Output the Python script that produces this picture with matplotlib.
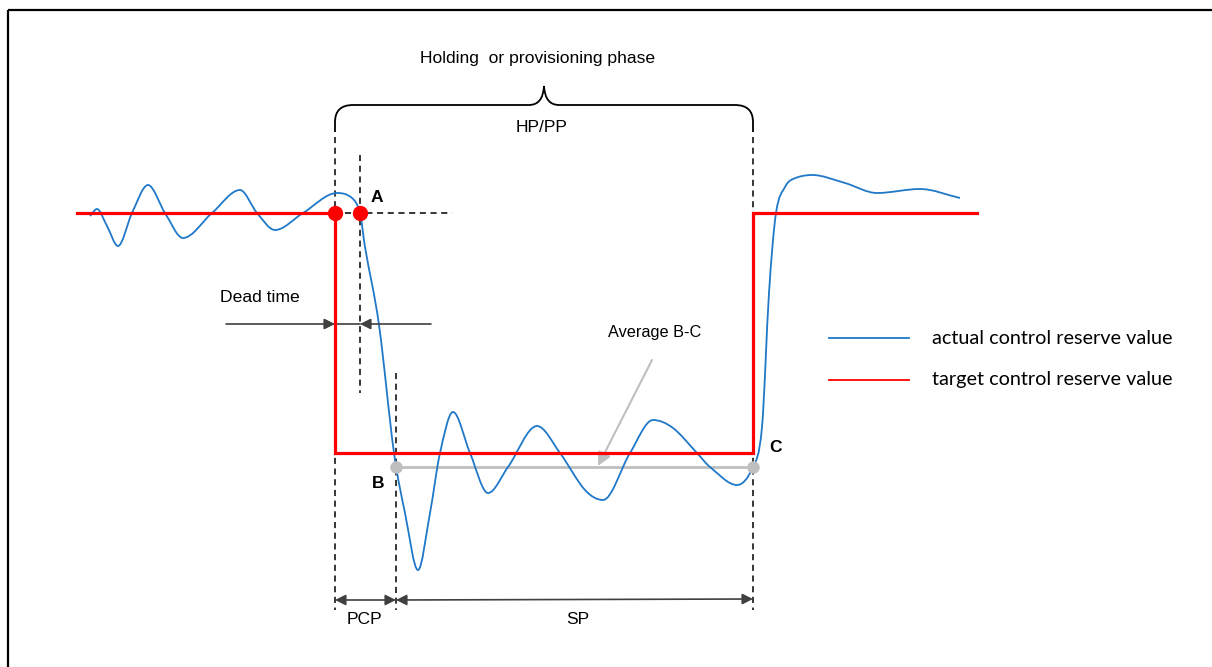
import numpy as np
import matplotlib
matplotlib.use("Agg")
import matplotlib.pyplot as plt
from matplotlib.path import Path
from matplotlib.patches import PathPatch

# diagram is drawn in pixel units of the reference (y grows downwards)
W, H = 1212, 667

# actual control reserve value
curve_x = [90, 97, 107, 118, 132, 148, 165, 183, 212, 240, 257, 275, 303, 337, 352,
           360, 365, 379, 394, 405, 418, 430, 440, 453, 470, 488, 508, 537, 560,
           585, 603, 630, 653, 673, 697, 710, 737, 753, 762, 769, 776, 785, 793,
           812, 845, 877, 920, 960]
curve_y = [216, 209, 226, 246, 213, 185, 213, 238, 213, 190, 213, 230, 213, 193, 198,
           213, 247, 325, 453, 513, 570, 513, 453, 412, 453, 493, 467, 426, 453,
           490, 500, 453, 420, 428, 453, 467, 485, 467, 427, 293, 213, 187, 179,
           175, 183, 193, 189, 198]
# points that are peaks or troughs (flat tangent)
curve_ext = [97, 118, 148, 183, 240, 275, 337, 418, 453, 488, 537, 603, 653, 737,
             812, 877, 920]

# target control reserve value (step profile)
target_x = [77, 335, 335, 753, 753, 977]
target_y = [213, 213, 453, 453, 213, 213]

# event times / levels
t_step, t_a, t_b, t_c = 335, 360, 396, 753
level_hi, level_lo, level_avg = 213, 453, 467

blue = "#1f78c8"
red = "#ff0000"
grey = "#bfbfbf"
dark = "#404040"
arial = "Liberation Sans"

fig = plt.figure(figsize=(W / 100, H / 100), dpi=100)
ax = fig.add_axes([0, 0, 1, 1])
ax.set_xlim(0, W)
ax.set_ylim(H, 0)
ax.axis("off")

# frame (top and left edges only, picture is cropped)
ax.plot([8, W], [10, 10], color="black", lw=1.6, solid_capstyle="butt")
ax.plot([8, 8], [10, H], color="black", lw=1.6, solid_capstyle="butt")

# dashed guide lines
dash = dict(color="black", lw=1.1, ls=(0, (4, 3)))
ax.plot([t_step, t_step], [137, 610], **dash)
ax.plot([t_c, t_c], [137, 610], **dash)
ax.plot([t_a, t_a], [155, 393], **dash)
ax.plot([t_b, t_b], [373, 610], **dash)
ax.plot([238, 452], [level_hi, level_hi], **dash)

# smooth blue curve: hermite segments drawn as bezier curves
x = np.array(curve_x, float)
y = np.array(curve_y, float)
dx = np.diff(x)
m = np.zeros_like(y)
m[0] = (y[1] - y[0]) / dx[0]
m[-1] = (y[-1] - y[-2]) / dx[-1]
for i in range(1, len(y) - 1):
    if curve_x[i] not in curve_ext:
        m[i] = (y[i + 1] - y[i - 1]) / (x[i + 1] - x[i - 1])
verts = [(x[0], y[0])]
codes = [Path.MOVETO]
for i in range(len(x) - 1):
    h = dx[i] / 3
    verts += [(x[i] + h, y[i] + m[i] * h), (x[i + 1] - h, y[i + 1] - m[i + 1] * h),
              (x[i + 1], y[i + 1])]
    codes += [Path.CURVE4] * 3
ax.add_patch(PathPatch(Path(verts, codes), fill=False, edgecolor=blue, lw=1.3,
                       zorder=3))

# target step
ax.plot(target_x, target_y, color=red, lw=2.3, zorder=4, solid_joinstyle="miter")

# average B-C line
ax.plot([t_b, t_c], [level_avg, level_avg], color=grey, lw=2, zorder=2)
ax.plot([t_b, t_c], [level_avg, level_avg], "o", color=grey, ms=8, zorder=5)
ax.annotate("", xy=(598, 466), xytext=(652, 360),
            arrowprops=dict(arrowstyle="-|>", color=grey, lw=1.5,
                            mutation_scale=20, shrinkA=0, shrinkB=0))
ax.text(655, 333, "Average B-C", fontsize=11.7, family=arial, ha="center",
        va="center")

# red points
ax.plot([t_step, t_a], [level_hi, level_hi], "o", color=red, ms=10, zorder=6)

# labels A, B, C
ax.text(371, 198, "A", fontsize=12.5, family=arial, weight="bold", va="center")
ax.text(372, 484, "B", fontsize=12.5, family=arial, weight="bold", va="center")
ax.text(769, 448, "C", fontsize=12.5, family=arial, weight="bold", va="center")

# dead time
ax.plot([t_step, t_a], [324, 324], color=dark, lw=1.2)
arr = dict(arrowstyle="-|>", color=dark, lw=1.2, mutation_scale=16,
           shrinkA=0, shrinkB=0)
ax.annotate("", xy=(t_step, 324), xytext=(226, 324), arrowprops=arr)
ax.annotate("", xy=(t_a, 324), xytext=(431, 324), arrowprops=arr)
ax.text(260, 298, "Dead time", fontsize=12.6, family=arial, ha="center",
        va="center")

# PCP / SP spans
span = dict(arrowstyle="<|-|>", color=dark, lw=1.2, mutation_scale=16,
            shrinkA=0, shrinkB=0)
ax.annotate("", xy=(t_step, 600), xytext=(t_b, 600), arrowprops=span)
ax.annotate("", xy=(t_b, 600), xytext=(t_c, 599), arrowprops=span)
ax.text(364, 619, "PCP", fontsize=12.6, family=arial, ha="center", va="center")
ax.text(578, 619, "SP", fontsize=12.6, family=arial, ha="center", va="center")

# brace over the holding phase
mid = (t_step + t_c) / 2
bv = [(t_step, 132), (t_step, 122), (t_step, 105), (t_step + 18, 105),
      (mid - 15, 105), (mid - 1, 105), (mid, 86),
      (mid + 1, 105), (mid + 15, 105), (t_c - 18, 105),
      (t_c, 105), (t_c, 122), (t_c, 132)]
bc = [Path.MOVETO, Path.LINETO, Path.CURVE3, Path.CURVE3,
      Path.LINETO, Path.CURVE3, Path.CURVE3,
      Path.CURVE3, Path.CURVE3, Path.LINETO,
      Path.CURVE3, Path.CURVE3, Path.LINETO]
ax.add_patch(PathPatch(Path(bv, bc), fill=False, edgecolor="black", lw=1.3))
ax.text(538, 58, "Holding  or provisioning phase", fontsize=12.6, family=arial,
        ha="center", va="center")
ax.text(542, 127, "HP/PP", fontsize=12.6, family=arial, ha="center",
        va="center")

# legend
ax.plot([829, 909], [338, 338], color=blue, lw=1.3)
ax.plot([829, 909], [380, 380], color=red, lw=1.3)
ax.text(932, 338, "actual control reserve value", fontsize=14.3, family="Lato",
        va="center")
ax.text(932, 380, "target control reserve value", fontsize=14.3, family="Lato",
        va="center")

fig.savefig("out.png", dpi=100)
